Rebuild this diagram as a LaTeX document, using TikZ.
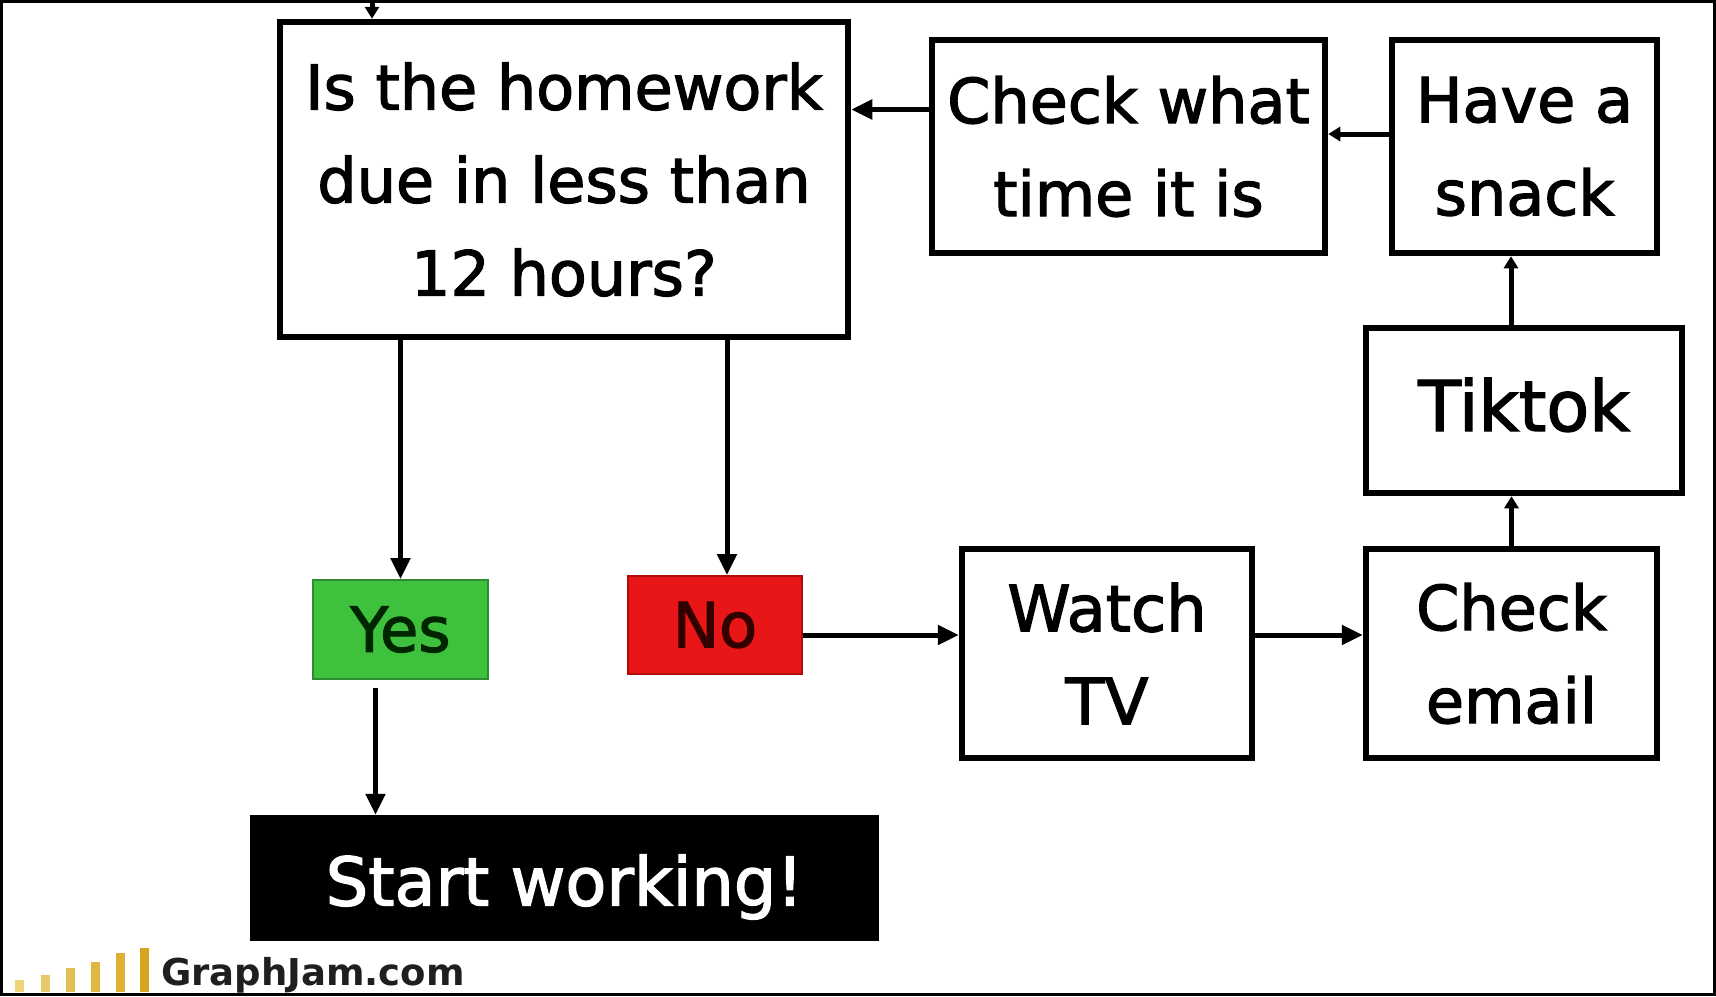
\documentclass[tikz,border=0pt]{standalone}
\usepackage{fontspec}
\setmainfont{DejaVu Sans}[FakeBold=2]
\newfontfamily\logofont{DejaVu Sans Bold}
\usetikzlibrary{arrows.meta}
\definecolor{yesgreen}{HTML}{3EC23E}
\definecolor{yesedge}{HTML}{2E8B2E}
\definecolor{nored}{HTML}{E81616}
\definecolor{noedge}{HTML}{B00A0A}
\definecolor{gold}{HTML}{D9A520}
\definecolor{paleyellow}{HTML}{F5E6A0}
\begin{document}
\begin{tikzpicture}[x=1pt,y=-1pt,
  box/.style={draw=black,line width=6.5pt,fill=white,align=center,inner sep=0pt,
    font=\fontsize{62}{93}\selectfont},
  arr/.style={line width=5pt,-{Triangle[length=21pt,width=19pt]}},
  sarr/.style={line width=5pt,-{Triangle[length=12pt,width=14pt]}}]
\useasboundingbox (0,0) rectangle (1716,996);
\draw[line width=3pt] (1.5,1.5) rectangle (1714.5,994.5);

\node[box,minimum width=568pt,minimum height=315pt] (q) at (564,179.5)
  {Is the homework\\due in less than\\12 hours?};
\node[box,minimum width=393pt,minimum height=213pt] (chk) at (1128.5,146.5)
  {Check what\\time it is};
\node[box,minimum width=265pt,minimum height=213pt] (snack) at (1524.5,146.5)
  {Have a\\snack};
\node[box,minimum width=316pt,minimum height=165pt,text height=41pt,text depth=0pt,
  font=\fontsize{70}{90}\selectfont] (tiktok) at (1524,410.5)
  {Tiktok};
\node[box,minimum width=291pt,minimum height=209pt] (email) at (1511.5,653.5)
  {Check\\email};
\node[box,minimum width=290pt,minimum height=209pt,font=\fontsize{64}{93}\selectfont] (tv) at (1107,653.5)
  {Watch\\TV};
\node[draw=yesedge,line width=2pt,fill=yesgreen,minimum width=175pt,minimum height=99pt,
  inner sep=0pt,text=black!85!green,font=\fontsize{62}{70}\selectfont] (yes) at (400.5,629.5) {Yes};
\node[draw=noedge,line width=2pt,fill=nored,minimum width=174pt,minimum height=98pt,
  inner sep=0pt,text=black!80!red,font=\fontsize{62}{70}\selectfont] (no) at (715,625) {No};
\node[fill=black,minimum width=629pt,minimum height=126pt,inner sep=0pt,text=white,
  text height=55pt,text depth=0pt,
  font=\fontsize{67}{70}\selectfont] (start) at (564.5,878) {Start working!};

% connector anchor points
\coordinate (topin) at (372,3);
\coordinate (chkout) at ([yshift=37pt]chk.west);
\coordinate (snackout) at ([yshift=12.5pt]snack.west);
\coordinate (tikout) at ([xshift=-13pt]tiktok.north);
\coordinate (noin) at ([xshift=12pt]no.north);
\coordinate (noout) at ([yshift=-10pt]no.east);
\coordinate (tvout) at ([yshift=18.5pt]tv.east);
\coordinate (yesout) at ([xshift=-25pt,yshift=-8pt]yes.south);

\draw[sarr] (topin) -- (q.north -| topin);
\draw[arr] (chkout) -- (q.east |- chkout);
\draw[sarr] (snackout) -- (chk.east |- snackout);
\draw[sarr] (tikout) -- (snack.south -| tikout);
\draw[sarr] (email.north) -- (tiktok.south -| email.north);
\draw[arr] (q.south -| yes.north) -- (yes.north);
\draw[arr] (q.south -| noin) -- (noin);
\draw[arr] (noout) -- (tv.west |- noout);
\draw[arr] (tvout) -- (email.west |- tvout);
\draw[arr] (yesout) -- (start.north -| yesout);

% GraphJam logo
\foreach \x/\h/\c in {15/12/30,41/17/45,66/24/60,91/30/72,116/39/85,140/44/100}{
  \fill[gold!\c!paleyellow] (\x,992) rectangle ++(9,-\h);
}
\node[anchor=base west,inner sep=0pt,text=black!88,font=\logofont\fontsize{37}{40}\selectfont] (gj) at (161,985) {GraphJam.com};
\end{tikzpicture}
\end{document}
